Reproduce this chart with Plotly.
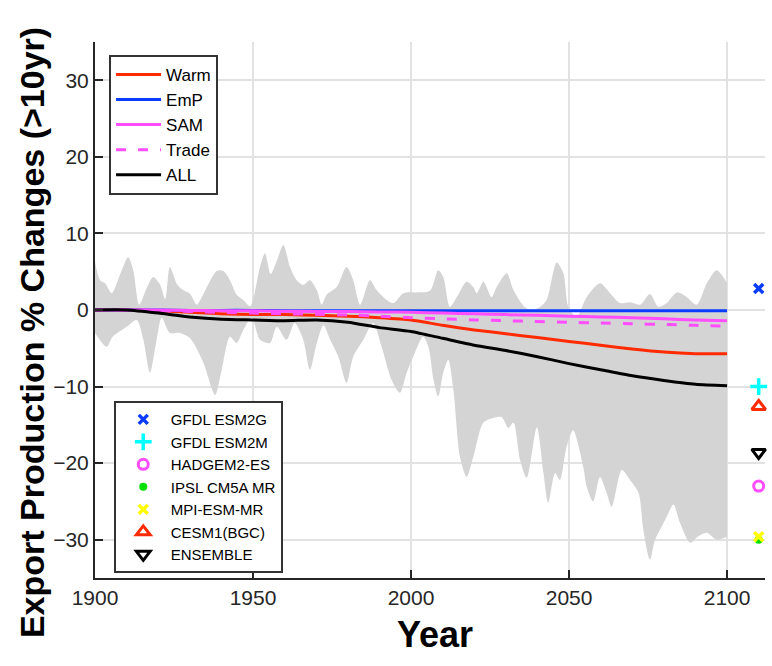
import plotly.graph_objects as go

# ---------------- data ----------------
years = [1900, 1910, 1920, 1930, 1940, 1950, 1960, 1970, 1980, 1990, 2000,
         2010, 2020, 2030, 2040, 2050, 2060, 2070, 2080, 2090, 2100]

warm = [0, 0, -0.1, -0.3, -0.5, -0.6, -0.6, -0.7, -0.8, -1.0, -1.3,
        -2.0, -2.6, -3.1, -3.6, -4.1, -4.6, -5.1, -5.5, -5.7, -5.7]
emp = [0, 0, 0, -0.05, -0.05, -0.05, -0.1, -0.1, -0.1, -0.1, -0.1,
       -0.1, -0.1, -0.1, -0.1, -0.1, -0.1, -0.1, -0.1, -0.1, -0.1]
sam = [0, 0, 0, -0.05, -0.1, -0.1, -0.15, -0.2, -0.2, -0.25, -0.3,
       -0.4, -0.5, -0.6, -0.7, -0.8, -0.9, -1.0, -1.15, -1.3, -1.4]
trade = [0, 0, -0.1, -0.2, -0.3, -0.4, -0.5, -0.55, -0.65, -0.8, -1.0,
         -1.15, -1.3, -1.4, -1.5, -1.6, -1.7, -1.8, -1.9, -2.0, -2.1]
all_ = [0, 0, -0.4, -0.9, -1.2, -1.3, -1.4, -1.3, -1.6, -2.3, -2.8,
        -3.7, -4.6, -5.3, -6.1, -7.0, -7.8, -8.6, -9.2, -9.7, -9.9]

band_up_years = [1900.0, 1901.6, 1903.2, 1905.3, 1907.9, 1910.5, 1912.1, 1914.0, 1916.4, 1918.4,
                 1920.6, 1922.2, 1923.7, 1925.9, 1927.9, 1930.1, 1932.2, 1934.3, 1938.5, 1940.6,
                 1942.7, 1944.8, 1946.9, 1949.1, 1952.2, 1953.8, 1955.6, 1957.5, 1959.6, 1961.7,
                 1963.8, 1965.9, 1968.0, 1970.2, 1971.7, 1973.3, 1976.5, 1979.6, 1981.7, 1983.9,
                 1987.0, 1989.1, 1992.3, 1994.4, 1997.6, 2001.8, 2006.0, 2008.6, 2010.2, 2012.3,
                 2014.5, 2017.6, 2019.7, 2020.8, 2022.9, 2025.5, 2027.1, 2030.3, 2032.4, 2035.5,
                 2037.7, 2040.8, 2042.9, 2046.1, 2048.2, 2049.8, 2052.4, 2055.6, 2059.8, 2063.0,
                 2066.1, 2069.3, 2072.5, 2075.6, 2078.3, 2080.9, 2084.1, 2087.2, 2090.4, 2093.6,
                 2096.7, 2100.0]
band_up = [6.3, 3.9, 3.5, 2.2, 4.6, 6.9, 5.2, 0.7, 2.9, 4.3,
           3.3, 1.4, 5.6, 3.4, 2.6, 2.1, 0.7, 2.1, 5.1, 5.1,
           3.9, 2.0, 1.3, 0.5, 5.6, 7.4, 4.7, 6.4, 8.5, 5.6,
           3.9, 3.3, 3.9, 2.6, 0.7, 2.0, 3.0, 5.6, 3.9, 0.7,
           3.9, 2.6, 1.3, 0.9, 2.2, 2.3, 2.5, 5.2, 4.3, 0.4,
           1.7, 3.7, 3.0, 2.2, 3.7, 1.7, 3.0, 4.8, 2.6, 0.6,
           0.0, 0.4, 1.3, 6.2, 4.8, 0.4, -0.9, 1.7, 3.5, 2.2,
           0.9, 1.0, 0.7, 2.1, 0.4, 0.9, 2.3, 1.7, 0.7, 3.5,
           5.2, 3.5]

band_lo_years = [1900.0, 1903.7, 1905.6, 1910.0, 1913.2, 1915.3, 1917.4, 1919.5, 1921.1, 1923.7,
                 1926.9, 1930.1, 1934.3, 1938.0, 1940.1, 1942.7, 1944.8, 1946.9, 1949.6, 1952.2,
                 1955.4, 1957.5, 1960.6, 1963.2, 1965.9, 1968.0, 1970.2, 1972.3, 1974.4, 1977.0,
                 1979.6, 1981.7, 1984.9, 1988.0, 1990.7, 1993.8, 1996.5, 1998.6, 2001.2, 2003.8,
                 2005.5, 2007.1, 2008.6, 2010.2, 2011.8, 2013.4, 2015.5, 2017.6, 2019.7, 2022.9,
                 2026.0, 2028.7, 2030.8, 2032.4, 2034.5, 2036.6, 2039.8, 2041.9, 2043.4, 2045.6,
                 2047.1, 2049.2, 2051.3, 2054.5, 2055.6, 2057.6, 2059.8, 2061.9, 2063.5, 2066.7,
                 2069.3, 2072.0, 2073.5, 2075.6, 2077.2, 2078.8, 2080.9, 2083.0, 2085.1, 2088.3,
                 2090.4, 2093.5, 2096.7, 2100.0]
band_lo = [-3.0, -4.8, -3.5, -2.2, -1.3, -3.9, -8.2, -3.9, -1.0, -3.0,
           -3.0, -3.7, -6.9, -11.1, -7.8, -3.5, -4.3, -2.6, -1.0, -3.9,
           -4.3, -2.2, -3.9, -1.7, -3.9, -7.8, -4.3, -2.0, -3.9, -6.1,
           -9.5, -6.1, -3.9, -1.7, -4.8, -9.1, -10.8, -8.2, -5.6, -3.5,
           -4.8, -9.1, -11.3, -8.2, -6.5, -10.4, -19.2, -21.8, -19.2, -14.7,
           -14.1, -14.0, -15.4, -14.7, -19.6, -21.9, -15.3, -21.3, -25.2, -21.3,
           -22.2, -17.9, -15.7, -20.5, -23.1, -25.0, -21.8, -23.9, -25.7, -20.9,
           -22.2, -23.9, -28.7, -32.6, -30.0, -28.7, -27.0, -25.4, -27.8, -30.4,
           -29.7, -29.1, -30.0, -29.6]

model_year = 2110
models = ["GFDL ESM2G", "GFDL ESM2M", "HADGEM2-ES", "IPSL CM5A MR",
          "MPI-ESM-MR", "CESM1(BGC)", "ENSEMBLE"]
model_vals = [2.8, -10.0, -23.0, -30.0, -29.6, -12.6, -18.6]

# ---------------- styles ----------------
FONT = "Liberation Sans, Arial, Helvetica, sans-serif"
line_styles = [
    ("Warm", warm, "#ff2a00", "solid"),
    ("EmP", emp, "#0a3cff", "solid"),
    ("SAM", sam, "#ff4dff", "solid"),
    ("Trade", trade, "#ff4dff", "10px,12px"),
    ("ALL", all_, "#000000", "solid"),
]
marker_styles = [
    dict(symbol="x-thin", size=9, color="#0a3cff", line=dict(width=3.5, color="#0a3cff")),
    dict(symbol="cross-thin", size=12, color="#00ffff", line=dict(width=3.5, color="#00ffff")),
    dict(symbol="circle-open", size=10, color="#ff4dff", line=dict(width=3, color="#ff4dff")),
    dict(symbol="circle", size=8, color="#00e000", line=dict(width=0)),
    dict(symbol="x-thin", size=9, color="#ffff00", line=dict(width=3.5, color="#ffff00")),
    dict(symbol="triangle-up-open", size=12, color="#ff2a00", line=dict(width=3, color="#ff2a00")),
    dict(symbol="triangle-down-open", size=12, color="#000000", line=dict(width=3, color="#000000")),
]

fig = go.Figure()

# gray envelope: lower edge, then upper edge filled down to it
fig.add_trace(go.Scatter(
    x=band_lo_years, y=band_lo, mode="lines",
    line=dict(width=0, color="#d4d4d4", shape="spline", smoothing=0.8),
    showlegend=False, hoverinfo="skip",
))
fig.add_trace(go.Scatter(
    x=band_up_years, y=band_up, mode="lines", fill="tonexty", fillcolor="#d4d4d4",
    line=dict(width=0, color="#d4d4d4", shape="spline", smoothing=0.8),
    showlegend=False, hoverinfo="skip",
))

for name, vals, color, dash in line_styles:
    fig.add_trace(go.Scatter(
        x=years, y=vals, name=name, mode="lines",
        line=dict(color=color, width=3, dash=dash, shape="spline", smoothing=0.6),
        legend="legend",
    ))

for name, val, mk in zip(models, model_vals, marker_styles):
    fig.add_trace(go.Scatter(
        x=[model_year], y=[val], name=name, mode="markers",
        marker=mk, legend="legend2", cliponaxis=False,
    ))

axis_common = dict(
    showline=True, linecolor="#262626", linewidth=2,
    ticks="inside", ticklen=8, tickwidth=2, tickcolor="#262626",
    showgrid=True, gridcolor="#e2e2e2", gridwidth=2,
    zeroline=False, mirror=False,
    tickfont=dict(family=FONT, size=21, color="#262626"),
)

fig.update_xaxes(range=[1900, 2112], tickvals=[1900, 1950, 2000, 2050, 2100], **axis_common)
fig.update_yaxes(range=[-35, 35], tickvals=[-30, -20, -10, 0, 10, 20, 30], **axis_common)

fig.update_layout(
    width=772, height=666,
    margin=dict(l=95, r=7, t=42, b=88),
    plot_bgcolor="white", paper_bgcolor="white",
    font=dict(family=FONT, color="black"),
    legend=dict(
        x=0.021, y=0.976, xanchor="left", yanchor="top",
        bgcolor="white", bordercolor="#333333", borderwidth=2,
        font=dict(family=FONT, size=17, color="black"),
        tracegroupgap=0, itemwidth=45, traceorder="normal",
    ),
    legend2=dict(
        x=0.028, y=0.330, xanchor="left", yanchor="top",
        bgcolor="white", bordercolor="#333333", borderwidth=2,
        font=dict(family=FONT, size=15, color="black"),
        tracegroupgap=0, itemwidth=45, traceorder="normal",
    ),
    annotations=[
        dict(text="<b>Export Production % Changes (>10yr)</b>", textangle=-90,
             xref="paper", yref="paper", x=-0.094, y=0.457,
             xanchor="center", yanchor="middle", showarrow=False,
             font=dict(family=FONT, size=34, color="black")),
        dict(text="<b>Year</b>", xref="paper", yref="paper", x=0.507, y=-0.106,
             xanchor="center", yanchor="middle", showarrow=False,
             font=dict(family=FONT, size=36, color="black")),
    ],
)

fig.write_html("out.html")
